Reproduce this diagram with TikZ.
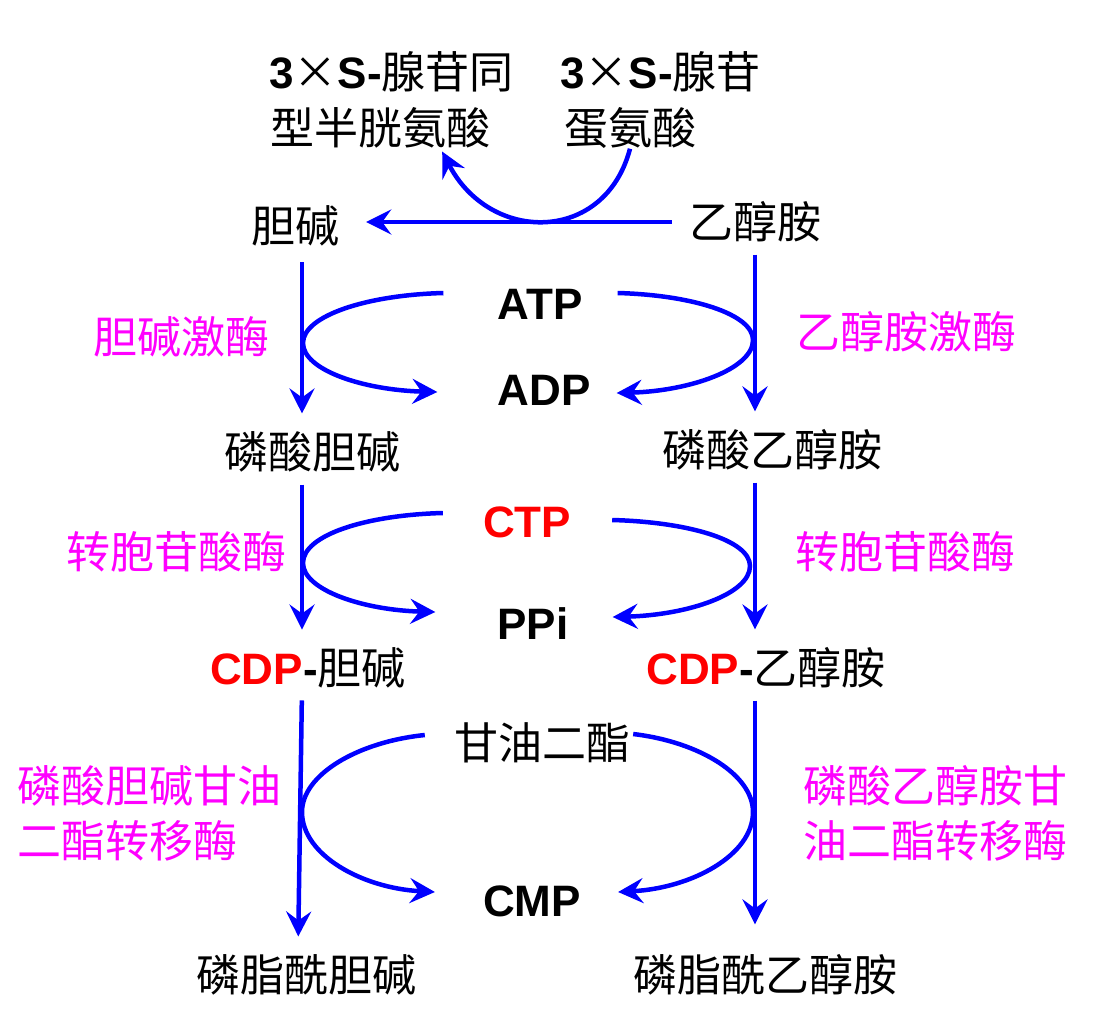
\documentclass[tikz,border=0pt]{standalone}
\usepackage{fontspec}
\usepackage{tikz}
\usetikzlibrary{arrows.meta}
\setmainfont{Liberation Sans}
\newfontfamily\cjk{Noto Sans CJK SC}
\newcommand\lat[1]{{\normalfont\bfseries #1}}
\definecolor{pathblue}{RGB}{0,0,255}
\definecolor{enzpink}{RGB}{255,0,255}
\tikzset{
  flow/.style={draw=pathblue, line width=4.5pt, -{Stealth[length=25pt,width=25pt,inset=9pt]}},
  down/.style={flow, shorten <=12pt, shorten >=18pt},
  chem/.style={inner sep=0pt, font=\cjk\fontsize{44}{55}\selectfont},
  cof/.style={inner sep=0pt, font=\normalfont\bfseries\fontsize{44}{55}\selectfont},
  enz/.style={chem, text=enzpink, align=center}
}

\begin{document}
\begin{tikzpicture}[x=1pt,y=-1pt]
\useasboundingbox (0,0) rectangle (1119,1018);
\coordinate (L) at (302,0);
\coordinate (R) at (755,0);

\node[chem, anchor=west] (sah1) at (269,72) {\lat{3}×\lat{S-}腺苷同};
\node[chem, anchor=west] (sah2) at (270,128) {型半胱氨酸};
\node[chem, anchor=west] (sam1) at (560,72) {\lat{3}×\lat{S-}腺苷};
\node[chem] (sam2) at (630,128) {蛋氨酸};
\node[chem] (cho) at (295,226) {胆碱};
\node[chem] (eta) at (755,222) {乙醇胺};
\node[chem] (pcho) at (312,452) {磷酸胆碱};
\node[chem] (peta) at (772,450) {磷酸乙醇胺};
\node[chem] (cdpc) at (308,668) {\lat{\textcolor{red}{CDP}-}胆碱};
\node[chem] (cdpe) at (766,668) {\lat{\textcolor{red}{CDP}-}乙醇胺};
\node[chem] (pc) at (306,975) {磷脂酰胆碱};
\node[chem] (pe) at (765,975) {磷脂酰乙醇胺};

\node[cof] (atp) at (540,304) {ATP};
\node[cof] (adp) at (544,390) {ADP};
\node[cof, text=red] (ctp) at (527,522) {CTP};
\node[cof] (ppi) at (533,624) {PPi};
\node[chem] (dag) at (542,743) {甘油二酯};
\node[cof] (cmp) at (532,901) {CMP};

\node[enz] (ck) at (181,337) {胆碱激酶};
\node[enz] (ek) at (906,332) {乙醇胺激酶};
\node[enz] (ctl) at (176,552) {转胞苷酸酶};
\node[enz] (ctr) at (905,552) {转胞苷酸酶};
\node[enz, align=left, anchor=west] (cpt) at (17,813) {磷酸胆碱甘油\\二酯转移酶};
\node[enz] (ept) at (935,813) {磷酸乙醇胺甘\\油二酯转移酶};

% methylation
\draw[flow, shorten <=17pt, shorten >=27pt] (eta.west) -- (cho.east |- eta.west);
\draw[flow] (sam2.south) .. controls (605,244) and (490,244) .. ([shift={(62,3)}]sah2.south);

% main columns
\draw[down, shorten <=16pt] (L |- cho.south) -- (L |- pcho.north);
\draw[down] (L |- pcho.south) -- (L |- cdpc.north);
\draw[down] (L |- cdpc.south) -- ([xshift=-4pt]L |- pc.north);
\draw[down] (R |- eta.south) -- (R |- peta.north);
\draw[down] (R |- peta.south) -- (R |- cdpe.north);
\draw[down, shorten >=30pt] (R |- cdpe.south) -- (R |- pe.north);

% cofactor loops
\draw[flow] ([shift={(-54,-11)}]atp.west) .. controls (366,295) and (303,316) .. (303,343)
  .. controls (303,370) and (363,390) .. ([shift={(-60,2)}]adp.west);
\draw[flow] ([shift={(35,-11)}]atp.east) .. controls (692,295) and (753,314) .. (753,340)
  .. controls (753,369) and (690,391) .. ([shift={(26,3)}]adp.east);
\draw[flow] ([shift={(-40,-9)}]ctp.west) .. controls (366,515) and (303,535) .. (303,563)
  .. controls (303,590) and (363,610) .. ([shift={(-62,-12)}]ppi.west);
\draw[flow] ([shift={(41,-2)}]ctp.east) .. controls (688,522) and (750,540) .. (750,566)
  .. controls (750,594) and (688,615) .. ([shift={(44,-7)}]ppi.east);
\draw[flow] ([shift={(-29,-8)}]dag.west) .. controls (357,742) and (302,775) .. (302,812)
  .. controls (302,855) and (362,888) .. ([shift={(-48,-9)}]cmp.west);
\draw[flow] ([shift={(3,-9)}]dag.east) .. controls (700,742) and (753,775) .. (753,812)
  .. controls (753,855) and (692,888) .. ([shift={(37,-9)}]cmp.east);
\end{tikzpicture}
\end{document}
